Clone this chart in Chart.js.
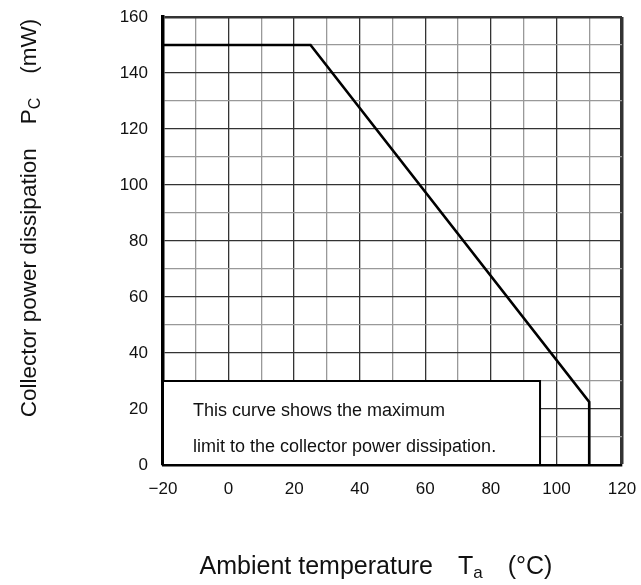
<!DOCTYPE html>
<html>
<head>
<meta charset="utf-8">
<script src="https://cdn.jsdelivr.net/npm/chart.js@4.4.1/dist/chart.umd.min.js"></script>
<style>
  html, body { margin: 0; padding: 0; background: #fff; }
  #wrap { width: 641px; height: 585px; }
</style>
</head>
<body>
<div id="wrap"><canvas id="myChart"></canvas></div>
<script>
// derating curve
const tempC = [-20, 25, 110, 110];
const powerMW = [150, 150, 22.5, 0];

const xTicks = [-20, 0, 20, 40, 60, 80, 100, 120];
const yTicks = [0, 20, 40, 60, 80, 100, 120, 140, 160];

const noteLines = ['This curve shows the maximum', 'limit to the collector power dissipation.'];
const noteX = [-20, 95];
const noteY = [0, 30];

const FONT = '"Liberation Sans", Arial, sans-serif';

// white note box over the grid
const notePlugin = {
  id: 'note',
  beforeDatasetsDraw(chart) {
    const ctx = chart.ctx, xs = chart.scales.x, ys = chart.scales.y;
    const l = xs.getPixelForValue(noteX[0]), r = xs.getPixelForValue(noteX[1]);
    const t = ys.getPixelForValue(noteY[1]), b = ys.getPixelForValue(noteY[0]);
    ctx.save();
    ctx.fillStyle = '#fff';
    ctx.fillRect(l, t, r - l, b - t);
    ctx.strokeStyle = '#000';
    ctx.lineWidth = 2;
    ctx.strokeRect(l, t, r - l, b - t);
    ctx.fillStyle = '#111';
    ctx.font = '18px ' + FONT;
    ctx.textBaseline = 'middle';
    ctx.fillText(noteLines[0], l + 30, t + 30);
    ctx.fillText(noteLines[1], l + 30, t + 66);
    ctx.restore();
  }
};

// draws text pieces in a row, small ones dropped like subscripts
function drawPieces(ctx, pieces, gap) {
  let w = 0;
  pieces.forEach(p => {
    ctx.font = p.size + 'px ' + FONT;
    p.w = ctx.measureText(p.text).width;
    w += p.w + (p.gap ? gap : 0);
  });
  let x = -w / 2;
  pieces.forEach(p => {
    ctx.font = p.size + 'px ' + FONT;
    ctx.fillText(p.text, x, p.dy || 0);
    x += p.w + (p.gap ? gap : 0);
  });
}

const titlePlugin = {
  id: 'titles',
  afterDraw(chart) {
    const ctx = chart.ctx;
    ctx.save();
    ctx.fillStyle = '#111';
    ctx.textBaseline = 'middle';
    ctx.textAlign = 'left';

    ctx.save();
    ctx.translate(376, 567);
    drawPieces(ctx, [
      {text: 'Ambient temperature', size: 25, gap: true},
      {text: 'T', size: 25},
      {text: 'a', size: 17, dy: 6, gap: true},
      {text: '(°C)', size: 25}
    ], 25);
    ctx.restore();

    ctx.save();
    ctx.translate(30, 218);
    ctx.rotate(-Math.PI / 2);
    drawPieces(ctx, [
      {text: 'Collector power dissipation', size: 22.5, gap: true},
      {text: 'P', size: 22.5},
      {text: 'C', size: 16, dy: 6, gap: true},
      {text: '(mW)', size: 22.5}
    ], 24);
    ctx.restore();

    ctx.restore();
  }
};

function gridColor(c) {
  return c.tick.value % 20 === 0 ? '#333' : '#999';
}

new Chart(document.getElementById('myChart'), {
  type: 'line',
  data: {
    datasets: [{
      data: tempC.map((t, i) => ({x: t, y: powerMW[i]})),
      borderColor: '#000',
      borderWidth: 2.6,
      pointRadius: 0,
      tension: 0,
      fill: false
    }]
  },
  options: {
    responsive: true,
    maintainAspectRatio: false,
    animation: false,
    events: [],
    layout: { padding: { top: 17, right: 19, left: 0, bottom: 0 } },
    plugins: { legend: { display: false }, tooltip: { enabled: false } },
    scales: {
      x: {
        type: 'linear',
        min: -20,
        max: 120,
        afterFit(s) { s.height = 120; s.paddingLeft = 0; s.paddingRight = 0; },
        border: { display: true, color: '#000', width: 2.5 },
        grid: {
          drawTicks: false,
          color: gridColor,
          lineWidth: c => c.tick.value === 120 ? 3.5 : 1.3
        },
        ticks: {
          stepSize: 10,
          padding: 14,
          maxRotation: 0,
          autoSkip: false,
          color: '#111',
          font: { family: FONT, size: 17 },
          callback: v => xTicks.includes(v) ? String(v).replace('-', '\u2212') : ''
        }
      },
      y: {
        type: 'linear',
        min: 0,
        max: 160,
        afterFit(s) { s.width = 163; s.paddingTop = 0; s.paddingBottom = 0; },
        border: { display: true, color: '#000', width: 3.5 },
        grid: {
          drawTicks: false,
          color: gridColor,
          lineWidth: c => c.tick.value === 160 ? 2.5 : 1.3
        },
        ticks: {
          stepSize: 10,
          padding: 15,
          autoSkip: false,
          color: '#111',
          font: { family: FONT, size: 17 },
          callback: v => yTicks.includes(v) ? String(v) : ''
        }
      }
    }
  },
  plugins: [notePlugin, titlePlugin]
});
</script>
</body>
</html>
